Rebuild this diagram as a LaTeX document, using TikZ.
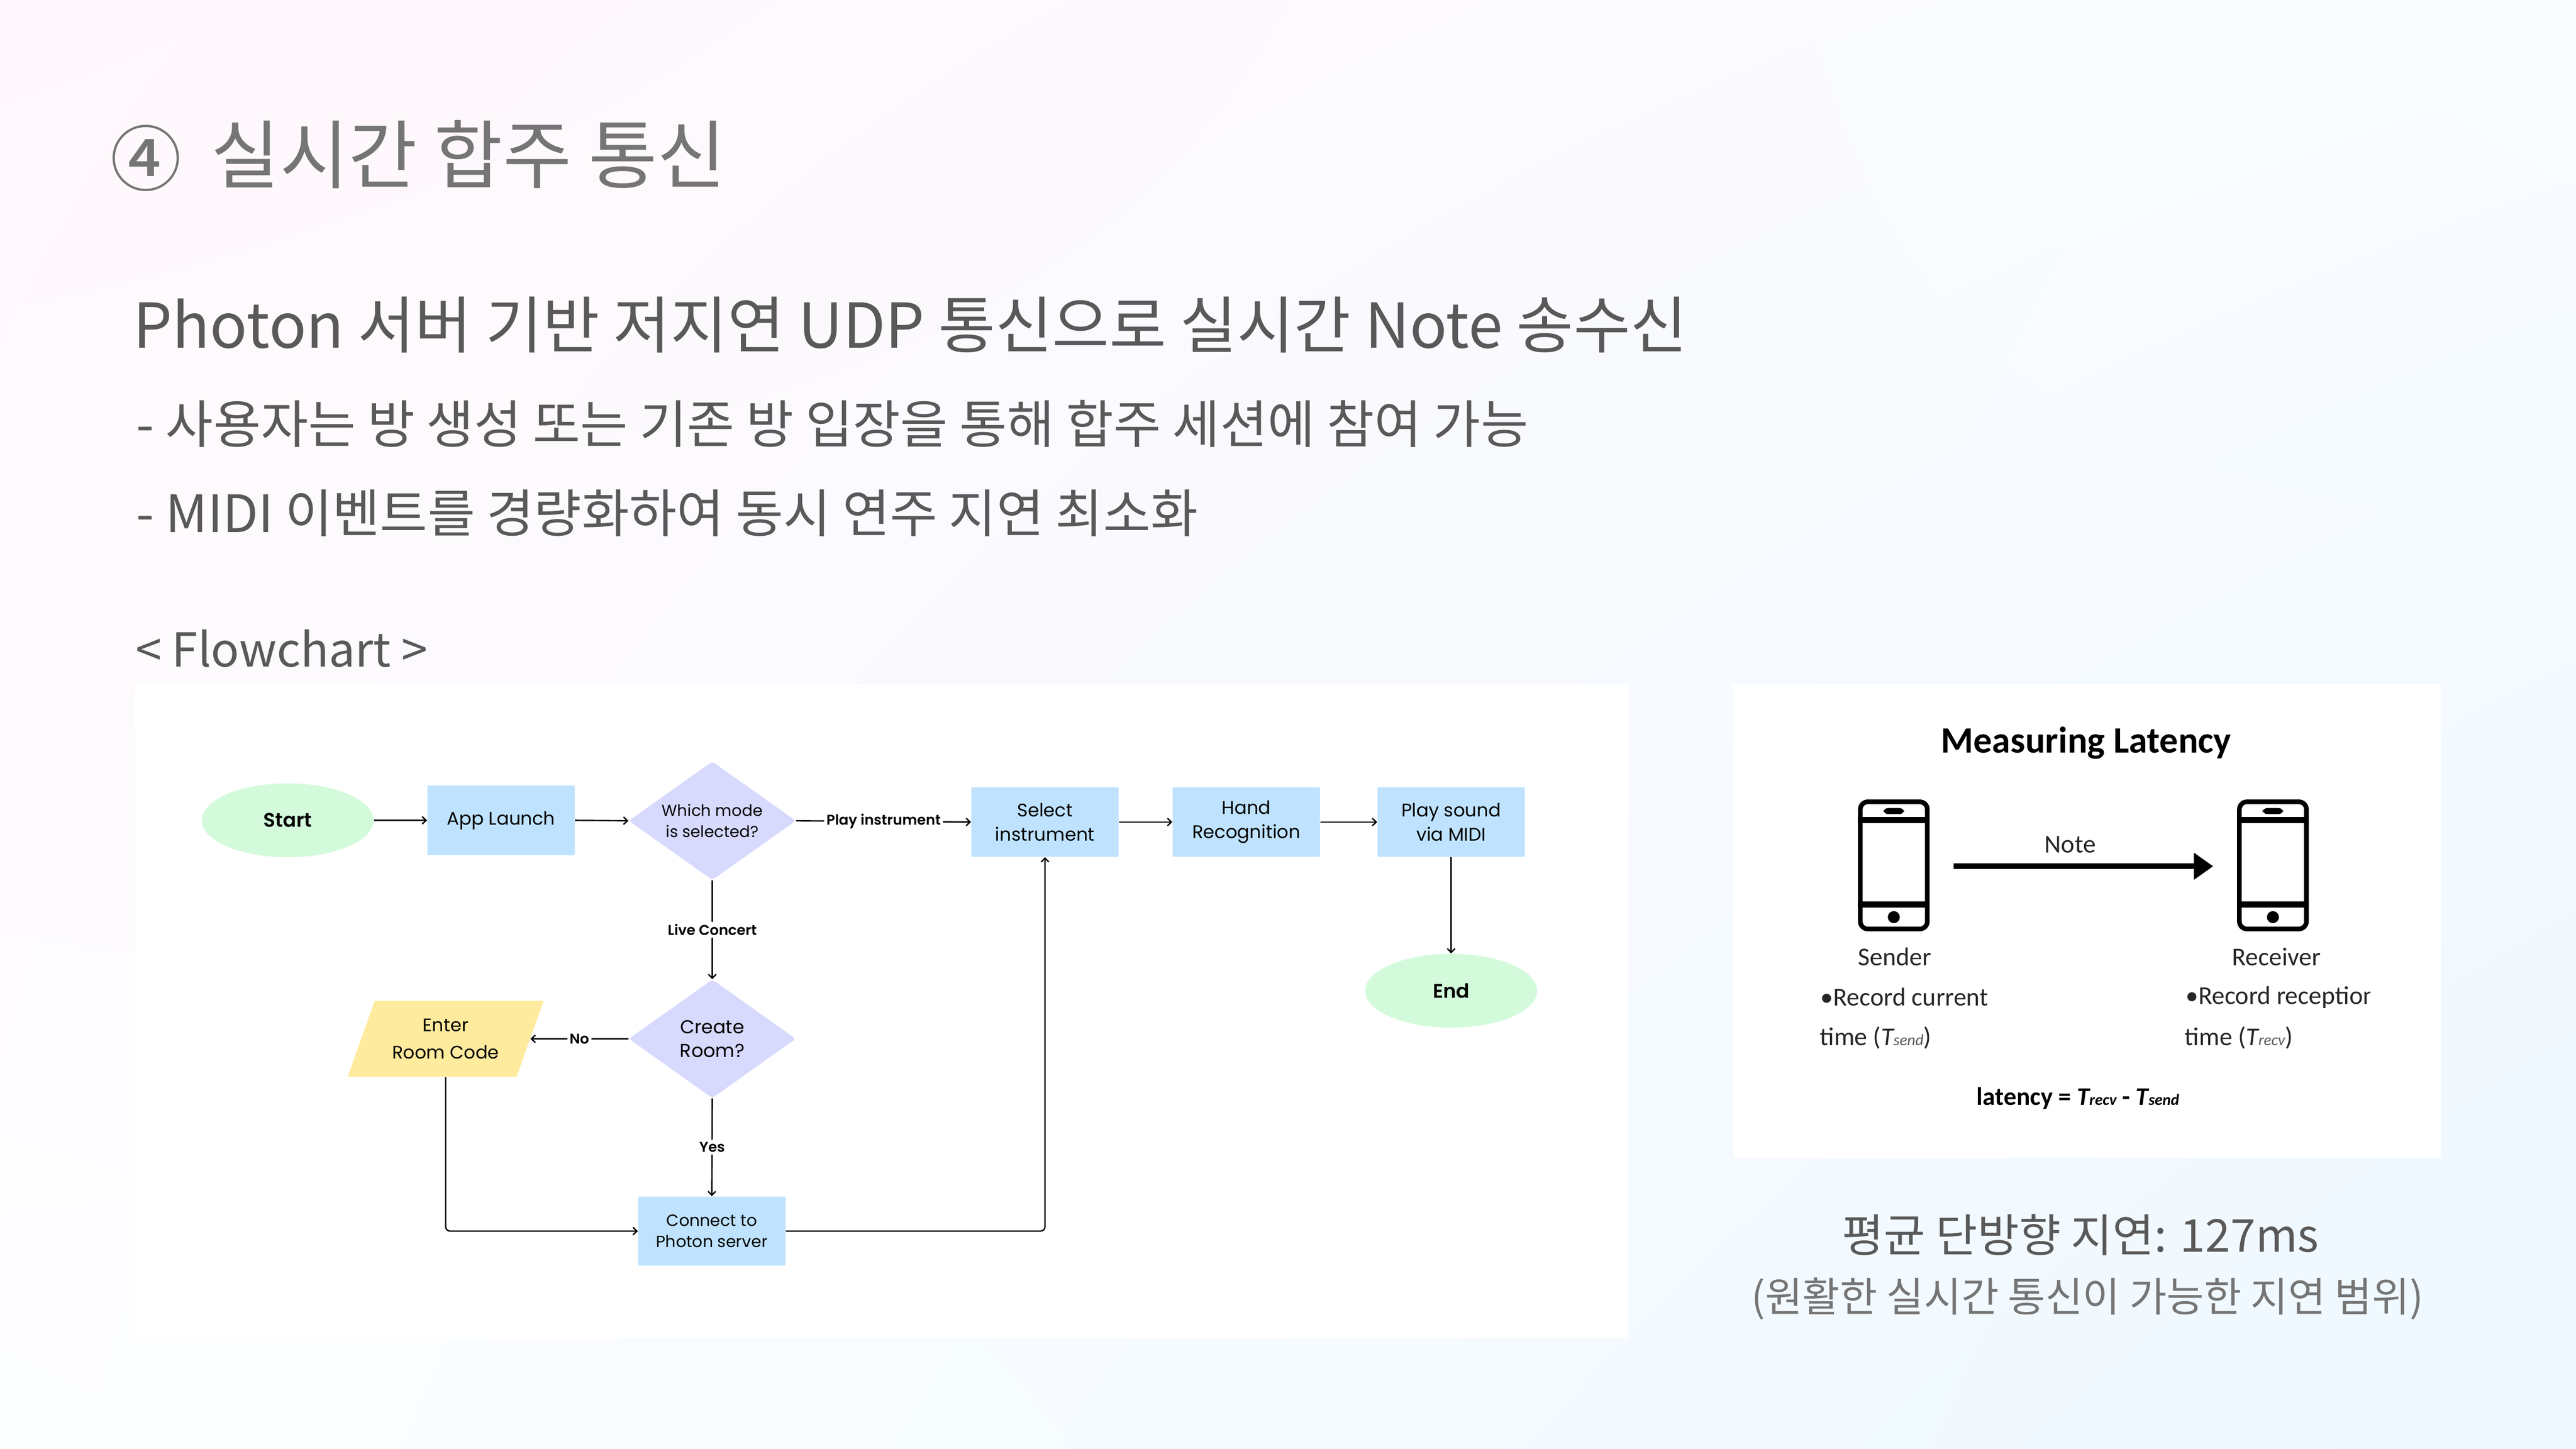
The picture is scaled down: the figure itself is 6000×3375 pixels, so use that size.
\documentclass[tikz,border=0pt]{standalone}
\usepackage{fontspec}
\usetikzlibrary{shapes.geometric,arrows.meta,calc,shadings}
\setmainfont{Noto Sans CJK KR}
\newfontfamily\medfont{Noto Sans CJK KR Medium}
\newfontfamily\flowfont[BoldFont={Poppins SemiBold}]{Poppins}
\newfontfamily\calfont{Carlito}
\newcommand{\fs}[2]{\fontsize{#1}{#2}\selectfont}
\definecolor{titlegray}{HTML}{757575}
\definecolor{bodygray}{HTML}{595959}
\definecolor{startgreen}{HTML}{D3FBDB}
\definecolor{stepblue}{HTML}{BFE3FF}
\definecolor{decpurple}{HTML}{D7D9FD}
\definecolor{inyellow}{HTML}{FEEB9D}
\definecolor{bgul}{HTML}{FFF7FC}
\definecolor{bgur}{HTML}{F9FCFF}
\definecolor{bgll}{HTML}{FDFEFF}
\definecolor{bglr}{HTML}{EDF8FF}
\tikzset{
  x=0.01cm,y=-0.01cm,
  slidetext/.style={anchor=west,inner sep=0pt,text=bodygray},
  terminal/.style={ellipse,fill=startgreen,draw=none,minimum width=4cm,minimum height=1.72cm,inner sep=0pt,font=\flowfont\bfseries\fs{13}{15}},
  stepbox/.style={rectangle,fill=stepblue,rounded corners=0.6pt,minimum width=3.43cm,minimum height=1.62cm,inner sep=0pt,align=center,font=\flowfont\fs{12.1}{16}},
  decision/.style={diamond,fill=decpurple,rounded corners=2pt,aspect=1.41,minimum width=3.89cm,minimum height=2.76cm,inner sep=0pt,align=center},
  inputbox/.style={trapezium,trapezium left angle=63,trapezium right angle=117,trapezium stretches=true,fill=inyellow,minimum width=4.58cm,minimum height=1.77cm,inner sep=0pt,align=center,font=\flowfont\fs{12}{18}},
  conn/.style={draw=black,line width=0.9pt,rounded corners=3pt,-{Straight Barb[length=2.6pt,width=5pt,line width=0.9pt]}},
  lbl/.style={fill=white,inner sep=1.5pt,text=black,font=\flowfont\bfseries\fs{9.4}{11}},
  phone/.style={rectangle,draw=black,line width=3.1pt,rounded corners=5pt,fill=white,minimum width=1.56cm,minimum height=2.96cm,inner sep=0pt},
  caltext/.style={inner sep=0pt,text=black!85,font=\calfont\fs{17}{20}},
}
\begin{document}
\begin{tikzpicture}
\shade[upper left=bgul,upper right=bgur,lower left=bgll,lower right=bglr] (0,0) rectangle (6000,3375);
\useasboundingbox (0,0) rectangle (6000,3375);

% Title and body text
\node[inner sep=0pt,text=titlegray,font=\medfont\fs{47}{50}] (titlenum) at (340,369) {④};
\node[slidetext,text=titlegray,font=\fs{49.5}{56}] (title) at (491,360) {실시간 합주 통신};
\node[slidetext,font=\fs{41}{46}] (line1) at (310,757) {Photon 서버 기반 저지연 UDP 통신으로 실시간 Note 송수신};
\node[slidetext,font=\fs{34.2}{40}] (line2) at (317,987) {- 사용자는 방 생성 또는 기존 방 입장을 통해 합주 세션에 참여 가능};
\node[slidetext,font=\fs{34.2}{40}] (line3) at (317,1195) {- MIDI 이벤트를 경량화하여 동시 연주 지연 최소화};
\node[slidetext,font=\fs{31}{36}] (fchead) at (315,1511) {< Flowchart >};

% Panels
\fill[white] (314,1593) rectangle (3793,3118);
\fill[white] (4037,1593) rectangle (5686,2698);

% Flowchart
\node[terminal] (start) at (670,1911) {Start};
\node[stepbox] (app) at (1167,1911) {App Launch};
\node[decision,font=\flowfont\fs{10.5}{14}] (mode) at (1659,1912) {Which mode\\is selected?};
\node[stepbox] (select) at (2434,1915) {Select\\instrument};
\node[stepbox] (hand) at (2903,1915) {Hand\\Recognition};
\node[stepbox] (play) at (3380,1915) {Play sound\\via MIDI};
\node[terminal] (endn) at (3380,2308) {End};
\node[decision,font=\flowfont\fs{12.4}{15.6}] (create) at (1659,2420) {Create\\Room?};
\node[inputbox] (enter) at (1038,2420) {Enter\\Room Code};
\node[stepbox,minimum height=1.61cm,font=\flowfont\fs{10.8}{13.8}] (connect) at (1658,2868) {Connect to\\Photon server};

\draw[conn] (start.east) -- (app.west);
\draw[conn] (app.east) -- (mode.west);
\draw[conn] (mode.east) -- node[lbl] {Play instrument} (select.west);
\draw[conn] (select.east) -- (hand.west);
\draw[conn] (hand.east) -- (play.west);
\draw[conn] (play.south) -- (endn.north);
\draw[conn] (mode.south) -- node[lbl] {Live Concert} (create.north);
\draw[conn] (create.west) -- node[lbl] {No} (enter.east);
\draw[conn] (create.south) -- node[lbl] {Yes} (connect.north);
\draw[conn] (enter.south) |- (connect.west);
\draw[conn] (connect.east) -| (select.south);

% Latency panel
\node[inner sep=0pt,text=black,font=\calfont\bfseries\fs{24.6}{28}] (mltitle) at (4859,1731) {Measuring Latency};
\node[phone] (sender) at (4411,2016) {};
\node[phone] (receiver) at (5294,2016) {};
\foreach \ph in {sender,receiver}{
  \fill[black] ($(\ph.north west)+(0,41)$) rectangle ($(\ph.north east)+(0,55)$);
  \fill[black] ($(\ph.south west)+(0,-69)$) rectangle ($(\ph.south east)+(0,-55)$);
  \fill[black,rounded corners=3pt] ($(\ph.north)+(-24,20)$) rectangle ($(\ph.north)+(24,34)$);
  \fill[black] ($(\ph.south)+(0,-33)$) circle [radius=14];
}
\coordinate (notefrom) at (4550,2018);
\coordinate (noteto) at (5155,2018);
\draw[line width=3.7pt,-{Triangle[length=0.45cm,width=0.6cm]}] (notefrom) -- (noteto);
\node[caltext] (note) at (4822,1968) {Note};
\node[caltext] (sendl) at (4413,2229) {Sender};
\node[caltext] (recvl) at (5302,2229) {Receiver};
\node[caltext,anchor=west] (rec1) at (4240,2322) {•Record current};
\node[caltext,anchor=west] (time1) at (4238,2418) {time ({\itshape T{\fs{10.5}{12}\color{black!65}send}})};
\begin{scope}
\clip (5080,2270) rectangle (5521,2370);
\node[caltext,anchor=west] (rec2) at (5090,2323) {•Record reception};
\end{scope}
\node[caltext,anchor=west] (time2) at (5088,2418) {time ({\itshape T{\fs{10.5}{12}\color{black!65}recv}})};
\node[inner sep=0pt,text=black,font=\calfont\bfseries\fs{16.8}{20}] (latency) at (4840,2559) {latency = {\itshape T{\fs{10.5}{12}recv}} - {\itshape T{\fs{10.5}{12}send}}};

% Result text
\node[inner sep=0pt,text=bodygray,font=\fs{30}{34}] (avg) at (4846,2877) {평균 단방향 지연: 127ms};
\node[inner sep=0pt,text=titlegray,font=\fs{26.95}{30}] (avgnote) at (4862,3025) {(원활한 실시간 통신이 가능한 지연 범위)};
\end{tikzpicture}
\end{document}
